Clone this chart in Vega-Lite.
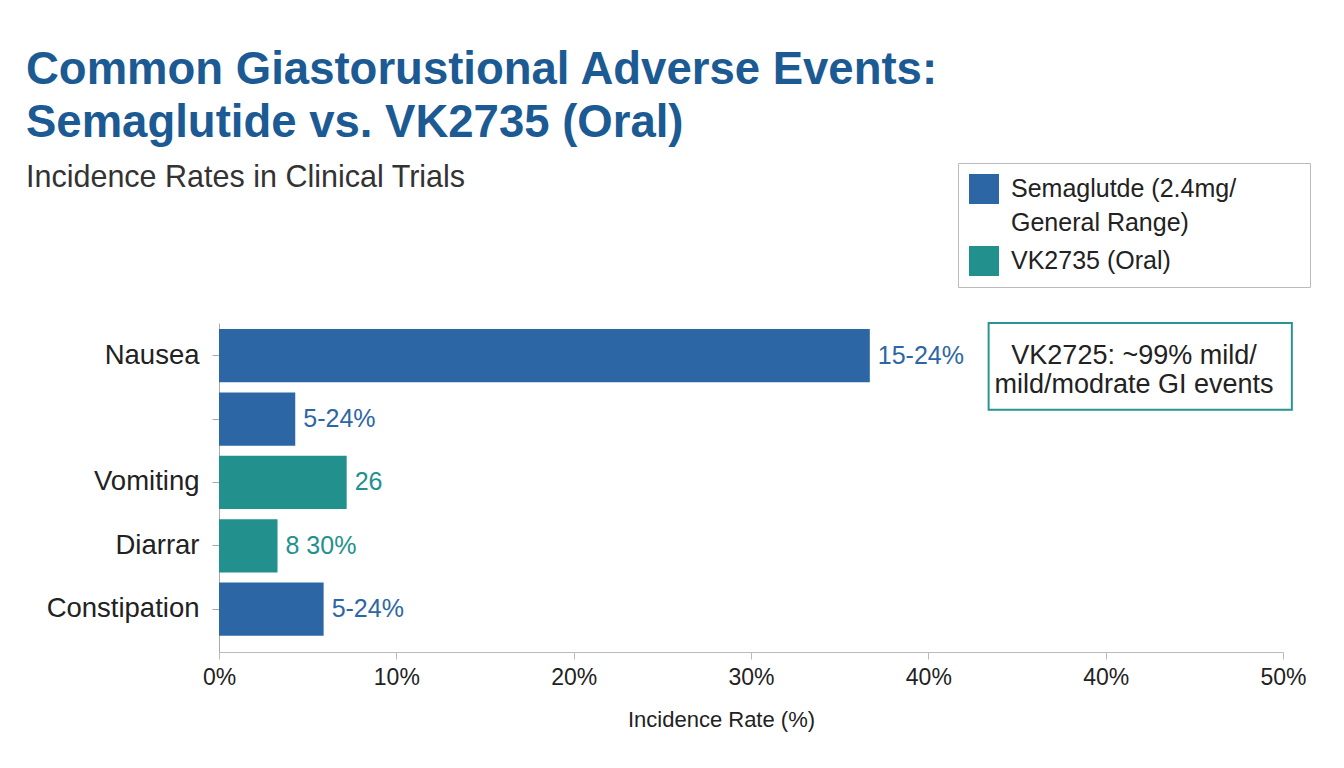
{
  "$schema": "https://vega.github.io/schema/vega-lite/v6.json",
  "autosize": {"type": "none"},
  "width": 1064,
  "height": 329,
  "padding": {"left": 219, "top": 323, "right": 61, "bottom": 116},
  "background": "#ffffff",
  "config": {
    "font": "Liberation Sans",
    "view": {"stroke": null}
  },
  "title": {
    "text": ["Common Giastorustional Adverse Events:", "Semaglutide vs. VK2735 (Oral)"],
    "subtitle": "Incidence Rates in Clinical Trials",
    "anchor": "start",
    "frame": "group",
    "dx": -193,
    "fontSize": 45.5,
    "fontWeight": "bold",
    "color": "#1b5a93",
    "lineHeight": 53,
    "subtitleFontSize": 30.5,
    "subtitleColor": "#333333",
    "subtitleFont": "Liberation Sans",
    "subtitlePadding": 17,
    "offset": -31
  },
  "layer": [
    {
      "data": {
        "values": [
          {"event": "Nausea", "rate": 36.7, "group": "Semaglutde (2.4mg/ General Range)", "label": "15-24%"},
          {"event": " ", "rate": 4.3, "group": "Semaglutde (2.4mg/ General Range)", "label": "5-24%"},
          {"event": "Vomiting", "rate": 7.2, "group": "VK2735 (Oral)", "label": "26"},
          {"event": "Diarrar", "rate": 3.3, "group": "VK2735 (Oral)", "label": "8 30%"},
          {"event": "Constipation", "rate": 5.9, "group": "Semaglutde (2.4mg/ General Range)", "label": "5-24%"}
        ]
      },
      "encoding": {
        "y": {
          "field": "event", "type": "nominal", "sort": null,
          "scale": {"paddingInner": 0.16, "paddingOuter": 0.175, "align": 0.27},
          "axis": {
            "title": null,
            "domainColor": "#aaaaaa",
            "tickColor": "#aaaaaa",
            "tickSize": 7,
            "labelPadding": 13,
            "labelFontSize": 27.5,
            "labelColor": "#222222",
            "labelFont": "Liberation Sans"
          }
        },
        "x": {
          "field": "rate", "type": "quantitative",
          "scale": {"domain": [0, 60], "nice": false},
          "axis": {
            "title": "Incidence Rate (%)",
            "values": [0, 10, 20, 30, 40, 50, 60],
            "labelExpr": "datum.value >= 50 ? (datum.value - 10) + '%' : datum.value + '%'",
            "labelFlush": false,
            "offset": 0,
            "grid": false,
            "domainColor": "#bbbbbb",
            "tickColor": "#bbbbbb",
            "tickSize": 7,
            "labelPadding": 7,
            "labelFontSize": 23,
            "labelColor": "#222222",
            "titleFontSize": 22,
            "titleFontWeight": "normal",
            "titleColor": "#222222",
            "titlePadding": 20,
            "titleX": 502
          }
        }
      },
      "layer": [
        {
          "mark": {"type": "bar"},
          "encoding": {
            "color": {
              "field": "group", "type": "nominal",
              "scale": {"domain": ["Semaglutde (2.4mg/ General Range)", "VK2735 (Oral)"], "range": ["#2d66a5", "#22918e"]},
              "legend": {
                "title": null,
                "orient": "none",
                "legendX": 739,
                "legendY": -160,
                "direction": "vertical",
                "symbolType": "square",
                "symbolSize": 900,
                "symbolStrokeWidth": 0,
                "symbolOpacity": 1,
                "labelFontSize": 25,
                "labelColor": "#222222",
                "labelLimit": 500,
                "labelOffset": 12,
                "rowPadding": 10,
                "padding": 11,
                "strokeColor": "#bbbbbb",
                "fillColor": "#ffffff",
                "labelExpr": "datum.label == 'Semaglutde (2.4mg/ General Range)' ? ['Semaglutde (2.4mg/         \u200b', 'General Range)'] : datum.label",
                "encode": {"labels": {"update": {"lineHeight": {"value": 34}}}}
              }
            }
          }
        },
        {
          "mark": {"type": "text", "align": "left", "baseline": "middle", "dx": 8, "fontSize": 25},
          "encoding": {
            "text": {"field": "label"},
            "color": {
              "field": "group", "type": "nominal",
              "scale": {"domain": ["Semaglutde (2.4mg/ General Range)", "VK2735 (Oral)"], "range": ["#2d66a5", "#22918e"]},
              "legend": null
            }
          }
        }
      ]
    },
    {
      "data": {"values": [{"x1": 43.4, "x2": 60.5, "y1": 1.0, "y2": 0.736, "tx": 51.6, "ty": 0.9, "note": "VK2725: ~99% mild/ mild/modrate GI events"}]},
      "layer": [
        {
          "mark": {"type": "rect", "fill": "#ffffff", "stroke": "#2a9590", "strokeWidth": 2},
          "encoding": {
            "x": {"field": "x1", "type": "quantitative"},
            "x2": {"field": "x2"},
            "y": {"field": "y1", "type": "quantitative", "scale": {"domain": [0, 1], "nice": false, "zero": false}, "axis": null},
            "y2": {"field": "y2"}
          }
        },
        {
          "mark": {"type": "text", "align": "center", "baseline": "middle", "fontSize": 27, "color": "#222222", "lineHeight": 29},
          "encoding": {
            "x": {"field": "tx", "type": "quantitative"},
            "y": {"field": "ty", "type": "quantitative"},
            "text": {"value": ["VK2725: ~99% mild/", "mild/modrate GI events"]}
          }
        }
      ]
    }
  ],
  "resolve": {"scale": {"y": "independent"}}
}
